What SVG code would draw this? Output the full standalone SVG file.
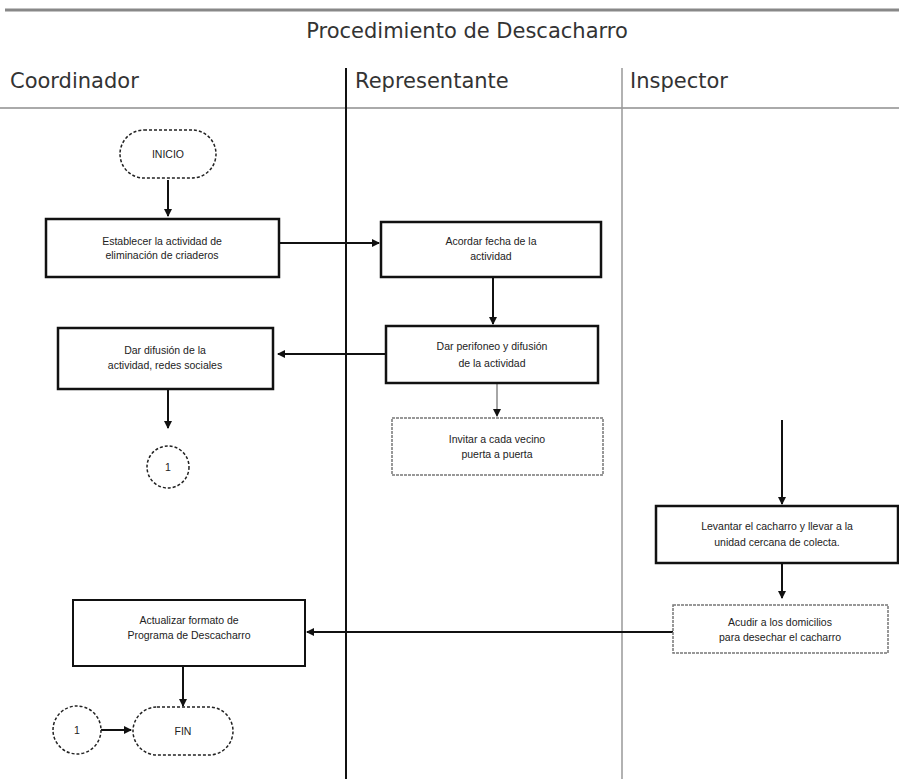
<svg xmlns="http://www.w3.org/2000/svg" width="899" height="779" viewBox="0 0 899 779">
<style>
.hdr{font-family:"DejaVu Sans","Liberation Sans",sans-serif;font-size:21px;fill:#333;}
.t{font-family:"Liberation Sans",Arial,sans-serif;font-size:10.5px;fill:#222;text-anchor:middle;}
.box{fill:#fff;stroke:#111;stroke-width:2.5;}
.lbox{fill:#fff;stroke:#777;stroke-width:1.5;stroke-dasharray:3 1;}
.term{fill:#fff;stroke:#222;stroke-width:1.5;stroke-dasharray:3 2;}
.c{stroke:#111;stroke-width:2;fill:none;}
.cg{stroke:#888;stroke-width:1.5;fill:none;}
</style>
<defs>
<marker id="ah" markerWidth="8" markerHeight="8" refX="7" refY="4" orient="auto" markerUnits="userSpaceOnUse"><path d="M0,0 L8,4 L0,8 z" fill="#111"/></marker>
</defs>
<rect width="899" height="779" fill="#fff"/>
<g id="frame">
<line x1="5" y1="10" x2="899" y2="10" stroke="#888" stroke-width="3"/>
<text class="hdr" x="467" y="38" text-anchor="middle">Procedimiento de Descacharro</text>
<text class="hdr" x="10" y="88">Coordinador</text>
<text class="hdr" x="355" y="88">Representante</text>
<text class="hdr" x="630" y="88">Inspector</text>
<line x1="0" y1="108" x2="899" y2="108" stroke="#aaa" stroke-width="2"/>
<line x1="346" y1="68" x2="346" y2="779" stroke="#111" stroke-width="2"/>
<line x1="622" y1="68" x2="622" y2="779" stroke="#999" stroke-width="1.5"/>
</g>
<g id="connectors">
<line class="c" x1="168" y1="180" x2="168" y2="216" marker-end="url(#ah)"/>
<line class="c" x1="279" y1="243" x2="379" y2="243" marker-end="url(#ah)"/>
<line class="c" x1="493" y1="278" x2="493" y2="324" marker-end="url(#ah)"/>
<line class="c" x1="386" y1="354" x2="278" y2="354" marker-end="url(#ah)"/>
<line class="c" x1="168" y1="389" x2="168" y2="428" marker-end="url(#ah)"/>
<line class="cg" x1="497" y1="384" x2="497" y2="416" marker-end="url(#ah)"/>
<line class="c" x1="782" y1="420" x2="782" y2="504" marker-end="url(#ah)"/>
<line class="c" x1="782" y1="564" x2="782" y2="598" marker-end="url(#ah)"/>
<line class="c" x1="673" y1="632" x2="307" y2="632" marker-end="url(#ah)"/>
<line class="c" x1="183" y1="667" x2="183" y2="706" marker-end="url(#ah)"/>
<line class="c" x1="101" y1="730" x2="131" y2="730" marker-end="url(#ah)"/>
</g>
<g id="inicio">
<rect class="term" x="120" y="130" width="96" height="48" rx="24"/>
<text class="t" x="168" y="158">INICIO</text>
</g>
<g id="establecer">
<rect class="box" x="46" y="219" width="233" height="58"/>
<text class="t" x="162" y="245">Establecer la actividad de</text>
<text class="t" x="162" y="259">eliminación de criaderos</text>
</g>
<g id="acordar">
<rect class="box" x="381" y="222" width="220" height="55"/>
<text class="t" x="491" y="245">Acordar fecha de la</text>
<text class="t" x="491" y="260">actividad</text>
</g>
<g id="perifoneo">
<rect class="box" x="386" y="326" width="212" height="57"/>
<text class="t" x="492" y="350">Dar perifoneo y difusión</text>
<text class="t" x="492" y="367">de la actividad</text>
</g>
<g id="invitar">
<rect class="lbox" x="392" y="418" width="211" height="57"/>
<text class="t" x="497" y="443">Invitar a cada vecino</text>
<text class="t" x="497" y="458">puerta a puerta</text>
</g>
<g id="difusion">
<rect class="box" x="58" y="328" width="215" height="61"/>
<text class="t" x="165" y="354">Dar difusión de la</text>
<text class="t" x="165" y="369">actividad, redes sociales</text>
</g>
<g id="conector1a">
<circle class="term" cx="168" cy="467" r="21"/>
<text class="t" x="168" y="471">1</text>
</g>
<g id="levantar">
<rect class="box" x="656" y="506" width="242" height="57"/>
<text class="t" x="777" y="530">Levantar el cacharro y llevar a la</text>
<text class="t" x="777" y="546">unidad cercana de colecta.</text>
</g>
<g id="acudir">
<rect class="lbox" x="673" y="605" width="215" height="48"/>
<text class="t" x="780" y="626">Acudir a los domicilios</text>
<text class="t" x="780" y="641">para desechar el cacharro</text>
</g>
<g id="actualizar">
<rect class="box" x="73" y="600" width="232" height="66" style="stroke-width:2"/>
<text class="t" x="189" y="624">Actualizar formato de</text>
<text class="t" x="189" y="639">Programa de Descacharro</text>
</g>
<g id="fin">
<rect class="term" x="133" y="707" width="100" height="48" rx="24"/>
<text class="t" x="183" y="735">FIN</text>
</g>
<g id="conector1b">
<circle class="term" cx="77" cy="730" r="24"/>
<text class="t" x="77" y="734">1</text>
</g>
</svg>
